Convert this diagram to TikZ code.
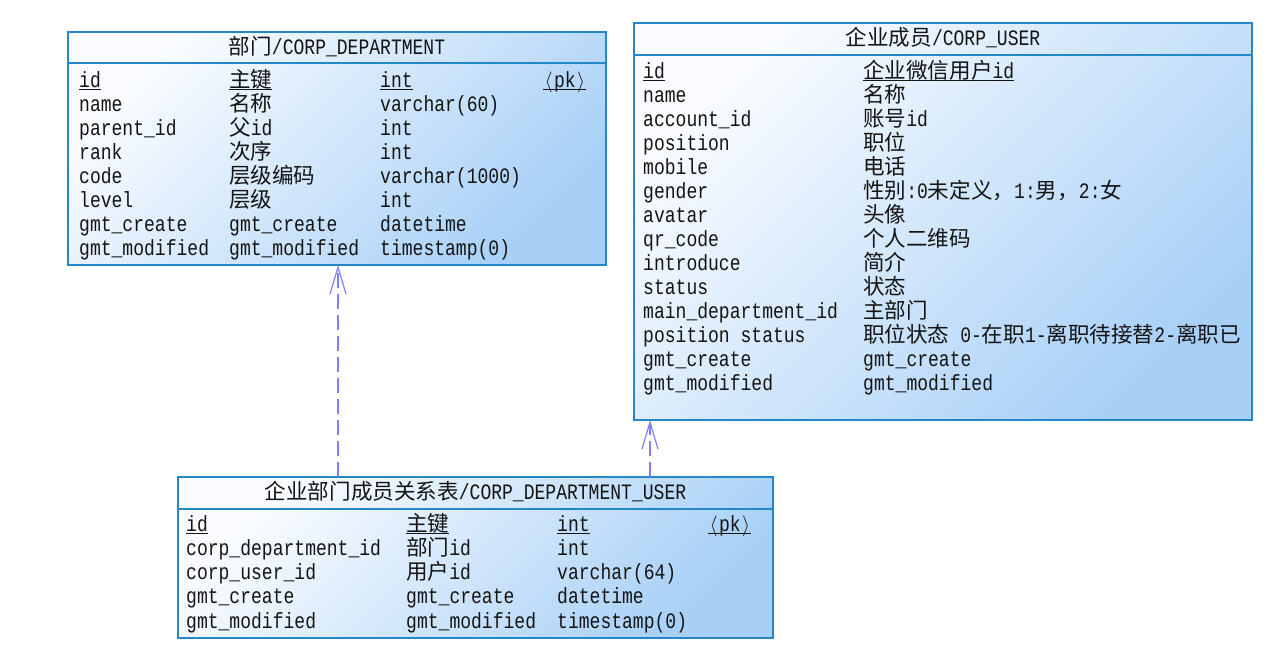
\documentclass[tikz,border=0pt]{standalone}
\usepackage{fontspec}
\setmainfont{Liberation Mono}[FakeStretch=0.82]
\newfontfamily\cjk{Noto Sans CJK SC}[Scale=0.98]
\usetikzlibrary{arrows.meta}
\definecolor{bord}{RGB}{35,135,200}
\definecolor{fillA}{RGB}{250,252,255}
\definecolor{fillB}{RGB}{168,208,247}
\definecolor{relc}{RGB}{128,128,255}
\definecolor{txt}{RGB}{20,20,20}
\newcommand\cj[1]{{\cjk #1}}
\newcommand\ulx[1]{\setbox0\hbox{#1}\rlap{\copy0}\raisebox{-3pt}{\rule{\wd0}{1.1pt}}}
\newcommand\pkx{\ulx{\makebox[10.8pt]{$\langle$}pk\makebox[10.8pt]{$\rangle$}}}
\begin{document}
\begin{tikzpicture}[x=1pt,y=-1pt,
  tbl/.style={draw=bord, line width=1.3pt, inner sep=0pt, outer sep=0pt,
    top color=fillA, bottom color=fillB, shading angle=45, anchor=north west},
  sepline/.style={draw=bord, line width=1.3pt},
  cell/.style={anchor=base west, inner sep=0pt, text=txt, font=\fontsize{22}{24}\selectfont},
  head/.style={anchor=base, inner sep=0pt, text=txt, font=\fontsize{22}{24}\selectfont},
  relline/.style={draw=relc, line width=1.2pt, dash pattern=on 15pt off 6pt,
    -{Straight Barb[length=27pt,width=16pt,line width=1.2pt]}}]
\fill[white] (0,0) rectangle (1269,659);
\useasboundingbox (0,0) rectangle (1269,659);

% ---------- tables ----------
\node[tbl, minimum width=538pt, minimum height=233pt] (dept) at (68,32) {};
\node[tbl, minimum width=618pt, minimum height=397pt] (user) at (634,23) {};
\node[tbl, minimum width=595pt, minimum height=161pt] (du) at (178,477) {};

\draw[sepline] ([yshift=-31pt]dept.north west) -- ([yshift=-31pt]dept.north east);
\draw[sepline] ([yshift=-32pt]user.north west) -- ([yshift=-32pt]user.north east);
\draw[sepline] ([yshift=-32pt]du.north west) -- ([yshift=-32pt]du.north east);

% ---------- headers ----------
\node[head] (h1) at (337,54) {\cj{部门}/CORP\_DEPARTMENT};
\node[head] (h2) at (943,45) {\cj{企业成员}/CORP\_USER};
\node[head] (h3) at (475.5,499) {\cj{企业部门成员关系表}/CORP\_DEPARTMENT\_USER};

% ---------- CORP_DEPARTMENT ----------
\node[cell] (d00) at (79,87) {\ulx{id}};
\node[cell] (d01) at (229,87) {\ulx{\cj{主键}}};
\node[cell] (d02) at (380,87) {\ulx{int}};
\node[cell] (d03) at (543,87) {\pkx};
\foreach \a/\b/\c [count=\i] in {
  name/{\cj{名称}}/varchar(60),
  parent\_id/{\cj{父}id}/int,
  rank/{\cj{次序}}/int,
  code/{\cj{层级编码}}/varchar(1000),
  level/{\cj{层级}}/int,
  gmt\_create/gmt\_create/datetime,
  gmt\_modified/gmt\_modified/timestamp(0)}{
  \node[cell] (d\i0) at (79,{87+24*\i}) {\a};
  \node[cell] (d\i1) at (229,{87+24*\i}) {\b};
  \node[cell] (d\i2) at (380,{87+24*\i}) {\c};
}

% ---------- CORP_USER ----------
\node[cell] (u00) at (643,78) {\ulx{id}};
\node[cell] (u01) at (863,78) {\ulx{\cj{企业微信用户}id}};
\foreach \a/\b [count=\i] in {
  name/{\cj{名称}},
  account\_id/{\cj{账号}id},
  position/{\cj{职位}},
  mobile/{\cj{电话}},
  gender/{\cj{性别}:0\cj{未定义，}1:\cj{男，}2:\cj{女}},
  avatar/{\cj{头像}},
  qr\_code/{\cj{个人二维码}},
  introduce/{\cj{简介}},
  status/{\cj{状态}},
  main\_department\_id/{\cj{主部门}},
  position status/{\cj{职位状态} 0-\cj{在职}1-\cj{离职待接替}2-\cj{离职已}},
  gmt\_create/gmt\_create,
  gmt\_modified/gmt\_modified}{
  \node[cell] (u\i0) at (643,{78+24.07*\i}) {\a};
  \node[cell] (u\i1) at (863,{78+24.07*\i}) {\b};
}

% ---------- CORP_DEPARTMENT_USER ----------
\node[cell] (r00) at (186,531) {\ulx{id}};
\node[cell] (r01) at (406,531) {\ulx{\cj{主键}}};
\node[cell] (r02) at (557,531) {\ulx{int}};
\node[cell] (r03) at (708,531) {\pkx};
\foreach \a/\b/\c [count=\i] in {
  corp\_department\_id/{\cj{部门}id}/int,
  corp\_user\_id/{\cj{用户}id}/varchar(64),
  gmt\_create/gmt\_create/datetime,
  gmt\_modified/gmt\_modified/timestamp(0)}{
  \node[cell] (r\i0) at (186,{531+24.25*\i}) {\a};
  \node[cell] (r\i1) at (406,{531+24.25*\i}) {\b};
  \node[cell] (r\i2) at (557,{531+24.25*\i}) {\c};
}

% ---------- relations ----------
\coordinate (a1) at (338,0);
\coordinate (a2) at (650,0);
\draw[relline] (a1 |- du.north) -- (a1 |- dept.south);
\draw[relline] (a2 |- du.north) -- (a2 |- user.south);
\end{tikzpicture}
\end{document}
